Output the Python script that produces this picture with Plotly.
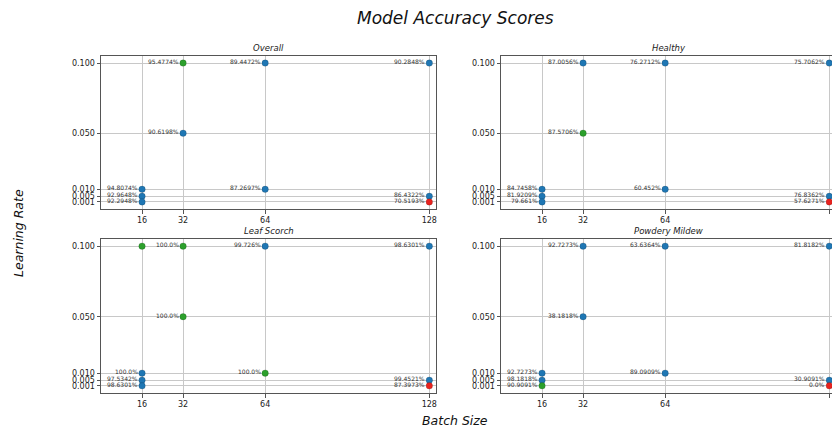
import plotly.graph_objects as go

# ---- data ----
batch_sizes = [16, 32, 64, 128]
learning_rates = [0.001, 0.005, 0.01, 0.05, 0.1]
lr_tick_labels = ["0.001", "0.005", "0.010", "0.050", "0.100"]

panel_titles = ["Overall", "Healthy", "Leaf Scorch", "Powdery Mildew"]

pt_batch = [16, 16, 16, 32, 32, 64, 64, 128, 128, 128]
pt_lr = [0.01, 0.005, 0.001, 0.1, 0.05, 0.1, 0.01, 0.1, 0.005, 0.001]

overall_acc = [94.8074, 92.9648, 92.2948, 95.4774, 90.6198, 89.4472, 87.2697, 90.2848, 86.4322, 70.5193]
overall_flag = ["", "", "", "best", "", "", "", "", "", "worst"]

healthy_acc = [84.7458, 81.9209, 79.661, 87.0056, 87.5706, 76.2712, 60.452, 75.7062, 76.8362, 57.6271]
healthy_flag = ["", "", "", "", "best", "", "", "", "", "worst"]

leaf_acc = [100.0, 97.5342, 98.6301, 100.0, 100.0, 99.726, 100.0, 98.6301, 99.4521, 87.3973]
leaf_flag = ["", "", "", "best", "best", "", "best", "", "", "worst"]
# extra unlabeled point shown in the Leaf Scorch panel
leaf_extra_batch = [16]
leaf_extra_lr = [0.1]

powdery_acc = [92.7273, 98.1818, 90.9091, 92.7273, 38.1818, 63.6364, 89.0909, 81.8182, 30.9091, 0.0]
powdery_flag = ["", "", "best", "", "", "", "", "", "", "worst"]

panels = [
    (overall_acc, overall_flag),
    (healthy_acc, healthy_flag),
    (leaf_acc, leaf_flag),
    (powdery_acc, powdery_flag),
]

# ---- style ----
W, H = 832, 427
color_map = {"": "#1f77b4", "best": "#2ca02c", "worst": "#e8231f"}
FONT = "DejaVu Sans"

# panel frames in reference pixels (left, right, top, bottom)
frames = [
    (101, 436, 56, 209),
    (501, 836, 56, 209),
    (101, 436, 239, 393),
    (501, 836, 239, 393),
]
px_per_unit = 2.565
yr = [-0.00405, 0.10505]


def px(v):
    return v / W


def py(v):
    return 1 - v / H


fig = go.Figure()
annotations = []

for i, ((acc, flag), (l, r, t, b)) in enumerate(zip(panels, frames)):
    n = i + 1
    xa = "x" if n == 1 else f"x{n}"
    ya = "y" if n == 1 else f"y{n}"
    r_vis = min(r, W)
    xr = [0, (r_vis - l) / px_per_unit]
    cols = [color_map[f] for f in flag]
    bx = list(pt_batch)
    by = list(pt_lr)
    if i == 2:
        bx = bx + leaf_extra_batch
        by = by + leaf_extra_lr
        cols = cols + [color_map["best"]] * len(leaf_extra_batch)
    fig.add_trace(go.Scatter(
        x=bx, y=by, mode="markers", xaxis=xa, yaxis=ya,
        marker=dict(size=6.5, color=cols, line=dict(width=0.6, color="rgba(0,0,0,0.25)")),
        cliponaxis=False, showlegend=False, hoverinfo="skip"))
    for xb, ylr, v in zip(pt_batch, pt_lr, acc):
        annotations.append(dict(
            x=xb, y=ylr, xref=xa, yref=ya, text=f"{v}%", showarrow=False,
            xanchor="right", yanchor="middle", xshift=-2, yshift=1.5,
            font=dict(family=FONT, size=6, color="#333333")))
    axis_common = dict(
        showgrid=True, gridcolor="#c8c8c8", gridwidth=0.8,
        showline=True, linecolor="#555555", linewidth=1, mirror=True,
        ticks="outside", ticklen=3.5, tickcolor="#555555", tickwidth=0.8,
        zeroline=False, tickfont=dict(family=FONT, size=8, color="#222222"),
    )
    fig.layout[f"xaxis{'' if n == 1 else n}"] = dict(
        axis_common, domain=[px(l), min(px(r_vis), 1.0)], range=xr,
        tickmode="array", tickvals=batch_sizes, ticktext=[str(s) for s in batch_sizes],
        anchor=ya)
    fig.layout[f"yaxis{'' if n == 1 else n}"] = dict(
        axis_common, domain=[py(b), py(t)], range=yr,
        tickmode="array", tickvals=learning_rates, ticktext=lr_tick_labels,
        anchor=xa)
    annotations.append(dict(
        x=px((l + r) / 2), y=py(t - 8), xref="paper", yref="paper",
        text=f"<i>{panel_titles[i]}</i>", showarrow=False, xanchor="center", yanchor="middle",
        font=dict(family=FONT, size=8.5, color="#222222")))

annotations.append(dict(
    x=px(455), y=py(18), xref="paper", yref="paper", text="<i>Model Accuracy Scores</i>",
    showarrow=False, xanchor="center", yanchor="middle",
    font=dict(family=FONT, size=17, color="#111111")))
annotations.append(dict(
    x=px(455), y=py(420), xref="paper", yref="paper", text="<i>Batch Size</i>",
    showarrow=False, xanchor="center", yanchor="middle",
    font=dict(family=FONT, size=12.5, color="#111111")))
annotations.append(dict(
    x=px(18), y=py(233), xref="paper", yref="paper", text="<i>Learning Rate</i>",
    showarrow=False, xanchor="center", yanchor="middle", textangle=-90,
    font=dict(family=FONT, size=12.5, color="#111111")))

fig.update_layout(
    width=W, height=H, margin=dict(l=0, r=0, t=0, b=0),
    paper_bgcolor="white", plot_bgcolor="white",
    annotations=annotations,
)

fig.write_html(
    "out.html",
    config={"displayModeBar": False},
    post_script="document.body.style.margin='0';document.body.style.overflow='hidden';",
)
